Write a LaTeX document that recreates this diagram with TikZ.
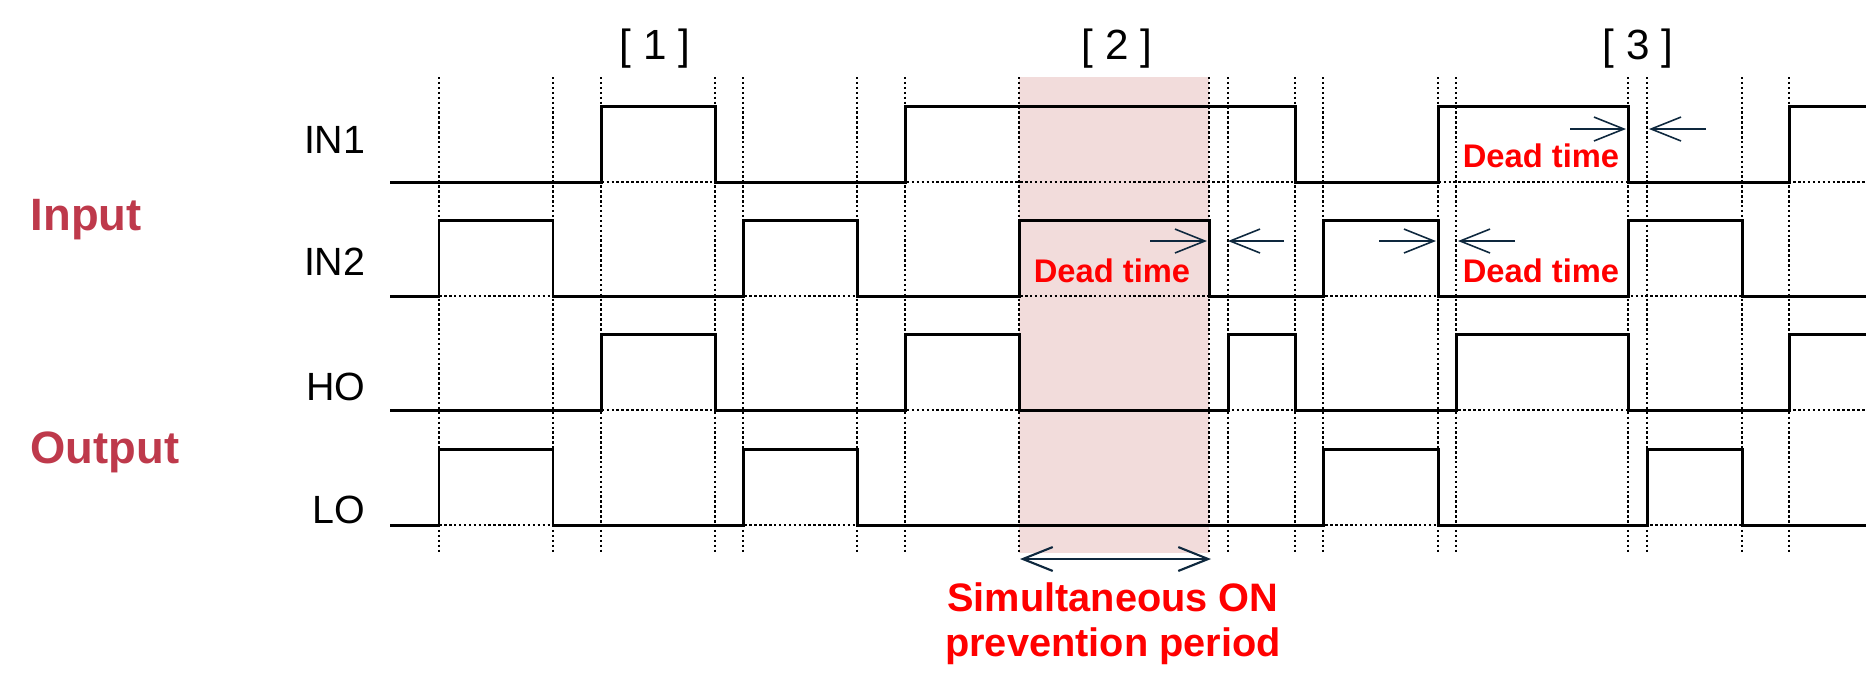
\documentclass[tikz,border=0pt]{standalone}
\usepackage{fontspec}
\setmainfont{Liberation Sans}
\usetikzlibrary{arrows.meta}
\definecolor{grpred}{RGB}{190,57,75}
\definecolor{simshade}{RGB}{242,220,219}
\definecolor{dtnavy}{RGB}{14,40,62}

\tikzset{
  wave/.style={line width=0.85pt, line join=miter},
  gridline/.style={line width=0.3pt, dash pattern=on 0.7pt off 0.7pt},
  dtarrow/.style={dtnavy, line width=0.45pt, -{Straight Barb[length=8.5pt,width=6.8pt]}},
  siglabel/.style={anchor=base east, inner sep=0pt, font=\fontsize{11.2}{13}\selectfont},
  grplabel/.style={anchor=base west, inner sep=0pt, text=grpred, font=\fontsize{12.9}{15}\selectfont\bfseries},
  reglabel/.style={anchor=base, inner sep=0pt, font=\fontsize{12}{14}\selectfont},
  deadlabel/.style={anchor=base, inner sep=0pt, text=red, font=\fontsize{9.3}{11}\selectfont\bfseries}
}

\begin{document}
\begin{tikzpicture}[x=0.01cm, y=-0.01cm]
\useasboundingbox (0,0) rectangle (1872,690);

% simultaneous ON prevention period
\fill[simshade] (1019,77) rectangle (1209,553);

% timing grid
\foreach \x in {439,553,601,715,743,857,905,1019,1209,1228,1295,1323,1438,1456,1628,1647,1742,1789}
  \draw[gridline] (\x,77) -- (\x,553);
\foreach \y in {182,296,410,525}
  \draw[gridline] (390,\y) -- (1866,\y);

% signals
\draw[wave] (390,182) -| (601,106) -| (715,182) -| (905,106) -| (1295,182) -| (1438,106) -| (1628,182) -| (1789,106) -- (1866,106); % IN1
\draw[wave] (390,296) -| (439,220) -| (553,296) -| (743,220) -| (857,296) -| (1019,220) -| (1209,296) -| (1323,220) -| (1438,296) -| (1628,220) -| (1742,296) -- (1866,296); % IN2
\draw[wave] (390,410) -| (601,334) -| (715,410) -| (905,334) -| (1019,410) -| (1228,334) -| (1295,410) -| (1456,334) -| (1628,410) -| (1789,334) -- (1866,334); % HO
\draw[wave] (390,525) -| (439,449) -| (553,525) -| (743,449) -| (857,525) -| (1323,449) -| (1438,525) -| (1647,449) -| (1742,525) -- (1866,525); % LO

% labels
\node[siglabel] (in1) at (366,153) {IN1};
\node[siglabel] (in2) at (366,275) {IN2};
\node[siglabel] (ho) at (366,400) {HO};
\node[siglabel] (lo) at (366,523) {LO};
\node[grplabel] (input) at (30,230) {Input};
\node[grplabel] (output) at (30,463) {Output};
\node[reglabel] (reg1) at (655,59) {[ 1 ]};
\node[reglabel] (reg2) at (1117,59) {[ 2 ]};
\node[reglabel] (reg3) at (1638,59) {[ 3 ]};

% dead time
\node[deadlabel] (dead2) at (1112,282) {Dead time};
\node[deadlabel] (dead3a) at (1541,167) {Dead time};
\node[deadlabel] (dead3b) at (1541,282) {Dead time};
\coordinate (d2l) at (1150,241); \coordinate (d2le) at (1207,241);
\coordinate (d2r) at (1284,241); \coordinate (d2re) at (1228,241);
\coordinate (d3l) at (1570,129); \coordinate (d3le) at (1626,129);
\coordinate (d3r) at (1706,129); \coordinate (d3re) at (1649,129);
\coordinate (d4l) at (1379,241); \coordinate (d4le) at (1436,241);
\coordinate (d4r) at (1515,241); \coordinate (d4re) at (1458,241);
\draw[dtarrow] (d2l) -- (d2le);
\draw[dtarrow] (d2r) -- (d2re);
\draw[dtarrow] (d3l) -- (d3le);
\draw[dtarrow] (d3r) -- (d3re);
\draw[dtarrow] (d4l) -- (d4le);
\draw[dtarrow] (d4r) -- (d4re);

% prevention period
\coordinate (pl) at (1020,559); \coordinate (pr) at (1211,559);
\draw[dtarrow, line width=0.6pt, {Straight Barb[length=8.5pt,width=6.8pt]}-{Straight Barb[length=8.5pt,width=6.8pt]}] (pl) -- (pr);
\node[anchor=north, inner sep=0pt, align=center, text=red, font=\fontsize{11.3}{12.8}\selectfont\bfseries] (simon) at (1113,582) {Simultaneous ON\\prevention period};
\end{tikzpicture}
\end{document}
